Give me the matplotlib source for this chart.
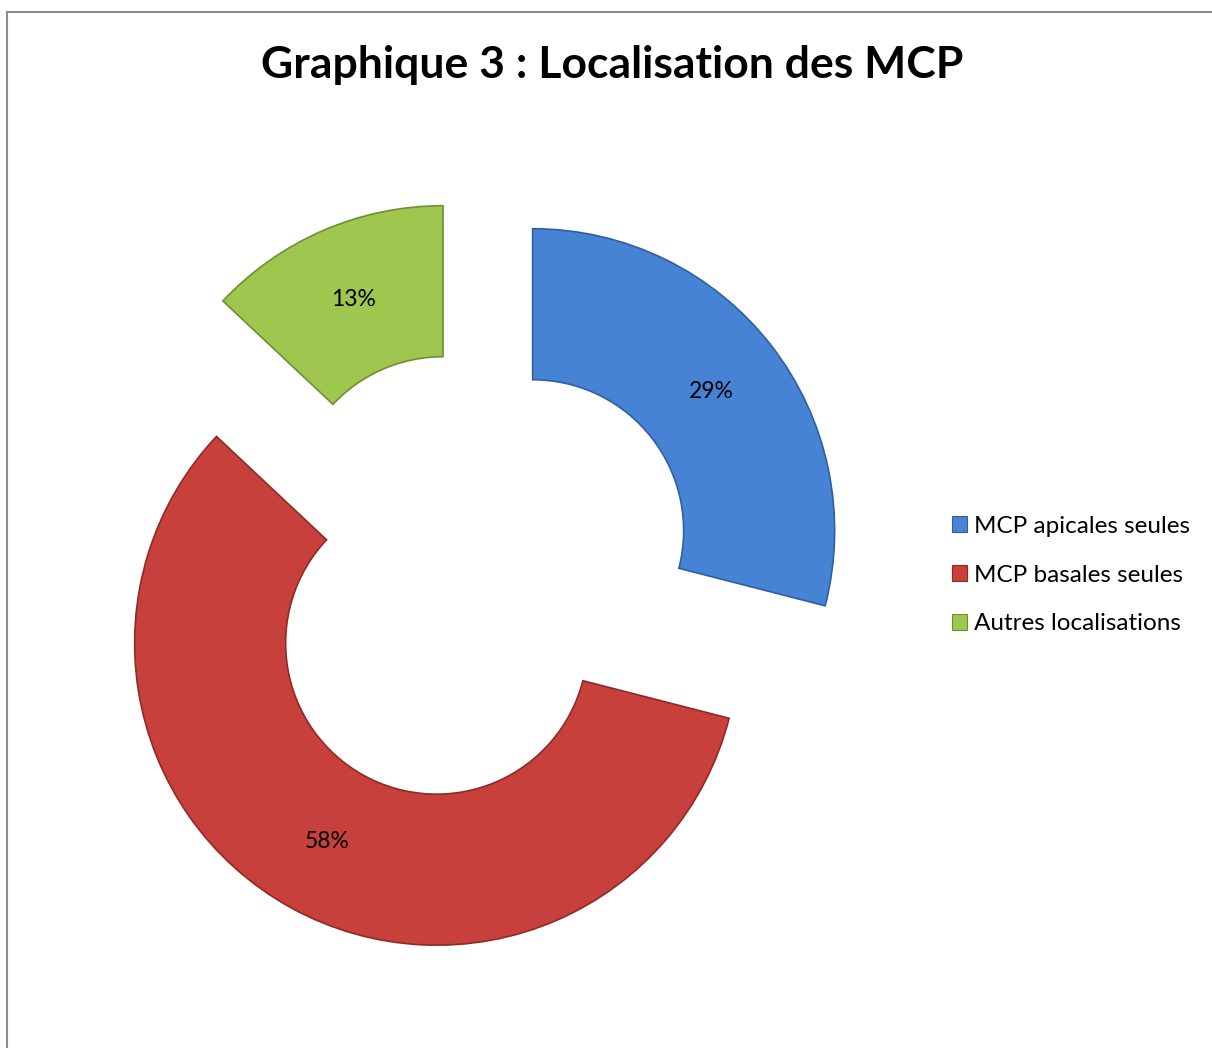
import matplotlib
matplotlib.use("Agg")
import matplotlib.pyplot as plt
from matplotlib.patches import Patch
from matplotlib.lines import Line2D

categories = ["MCP apicales seules", "MCP basales seules", "Autres localisations"]
values = [29, 58, 13]
pct_labels = ["29%", "58%", "13%"]
colors = ["#4683d4", "#c8403c", "#9fc64f"]
edge_colors = ["#2f5f9e", "#8e2a28", "#6f8f30"]
title = "Graphique 3 : Localisation des MCP"

plt.rcParams['font.family'] = ['Lato', 'DejaVu Sans']

W, H = 1212, 1048
fig = plt.figure(figsize=(W / 100, H / 100), dpi=100)
ax = fig.add_axes([0, 0, 1, 1])

cx, cy, R = 473, 577, 302  # pixel centre and radius
wedges, texts, autotexts = ax.pie(
    values, radius=1, startangle=90, counterclock=False,
    explode=[0.25] * 3, colors=colors,
    wedgeprops=dict(width=0.5, linewidth=1.2),
    autopct=lambda p: "", pctdistance=0.75,
)
for w, ec in zip(wedges, edge_colors):
    w.set_edgecolor(ec)
for t, lab in zip(autotexts, pct_labels):
    t.set_text(lab)
    t.set_fontsize(16.5)
    t.set_color("black")

ax.set_aspect('auto')
ax.set_xlim(-cx / R, (W - cx) / R)
ax.set_ylim((cy - H) / R, cy / R)
ax.axis('off')

fig.text(612 / W, 1 - 65 / H, title, ha='center', va='center',
         fontsize=32, fontweight='bold')

handles = [Patch(facecolor=c, edgecolor=e, linewidth=0.8) for c, e in zip(colors, edge_colors)]
fig.legend(handles, categories, loc='center left',
           bbox_to_anchor=(952 / W, 1 - 575 / H), frameon=False,
           fontsize=17.5, handlelength=0.6, handleheight=0.6,
           handletextpad=0.3, labelspacing=1.15, borderpad=0, borderaxespad=0)

# outer frame (cropped on right and bottom)
fig.add_artist(Line2D([7 / W, 7 / W], [0, 1 - 12 / H], transform=fig.transFigure,
                      color="#8c8c8c", linewidth=1.5))
fig.add_artist(Line2D([7 / W, 1], [1 - 12 / H, 1 - 12 / H], transform=fig.transFigure,
                      color="#8c8c8c", linewidth=1.5))

fig.savefig("out.png", dpi=100, facecolor="white")
